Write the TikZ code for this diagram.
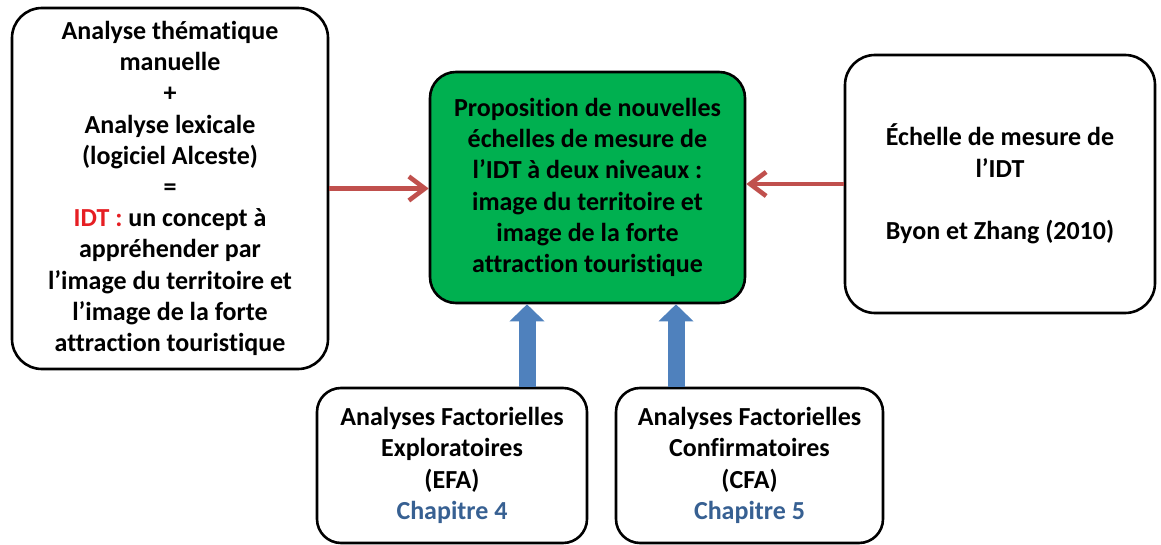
\documentclass[tikz,border=0pt]{standalone}
\usepackage{fontspec}
\setmainfont{Carlito}[Ligatures=NoCommon]
\usetikzlibrary{arrows.meta}
\definecolor{boxgreen}{RGB}{0,176,80}
\definecolor{arrred}{RGB}{192,80,77}
\definecolor{arrblue}{RGB}{79,129,189}
\definecolor{idtred}{RGB}{230,30,35}
\definecolor{chapblue}{RGB}{55,96,146}
\begin{document}
\begin{tikzpicture}[x=0.5pt, y=-0.5pt,
  every node/.style={font=\bfseries\fontsize{13}{15.6}\selectfont, align=center},
  box/.style={draw, line width=1.3pt, rounded corners=15pt, inner sep=0pt},
  redarrow/.style={-{Straight Barb[length=8pt,width=12pt]}, line width=2.3pt, arrred},
  bluearrow/.style={-{Triangle[length=8.5pt,width=17pt]}, line width=8.5pt, arrblue}]
\useasboundingbox (0,0) rectangle (1161,545);
% the three boxes of the top row
\node[box, minimum width=158pt, minimum height=180.5pt] (manuel) at (170,188.5) {Analyse thématique\\ manuelle\\ +\\ Analyse lexicale\\ (logiciel Alceste)\\ =\\ \textcolor{idtred}{IDT :} un concept à\\ appréhender par\\ l’image du territoire et\\ l’image de la forte\\ attraction touristique};
\node[box, fill=boxgreen, rounded corners=13pt, minimum width=157.5pt, minimum height=115.5pt] (prop) at (587.5,187.5) {Proposition de nouvelles\\ échelles de mesure de\\ l’IDT à deux niveaux :\\ image du territoire et\\ image de la forte\\ attraction touristique};
\node[box, minimum width=155pt, minimum height=129pt] (echelle) at (1000,184) {Échelle de mesure de\\ l’IDT\\[15.6pt] Byon et Zhang (2010)};
% factor analyses
\node[box, rounded corners=12pt, minimum width=135pt, minimum height=77.5pt] (efa) at (452,465.5) {Analyses Factorielles\\ Exploratoires\\ (EFA)\\ \textcolor{chapblue}{Chapitre 4}};
\node[box, rounded corners=12pt, minimum width=133.5pt, minimum height=77.5pt] (cfa) at (749.5,465.5) {Analyses Factorielles\\ Confirmatoires\\ (CFA)\\ \textcolor{chapblue}{Chapitre 5}};
\draw[redarrow] (manuel.east) -- (manuel.east -| prop.west);
\draw[redarrow] (echelle.west) -- (echelle.west -| prop.east);
\draw[bluearrow] ([xshift=37.5pt]efa.north) -- ([xshift=37.5pt]efa.north |- prop.south);
\draw[bluearrow] ([xshift=-36.75pt]cfa.north) -- ([xshift=-36.75pt]cfa.north |- prop.south);
\end{tikzpicture}
\end{document}
